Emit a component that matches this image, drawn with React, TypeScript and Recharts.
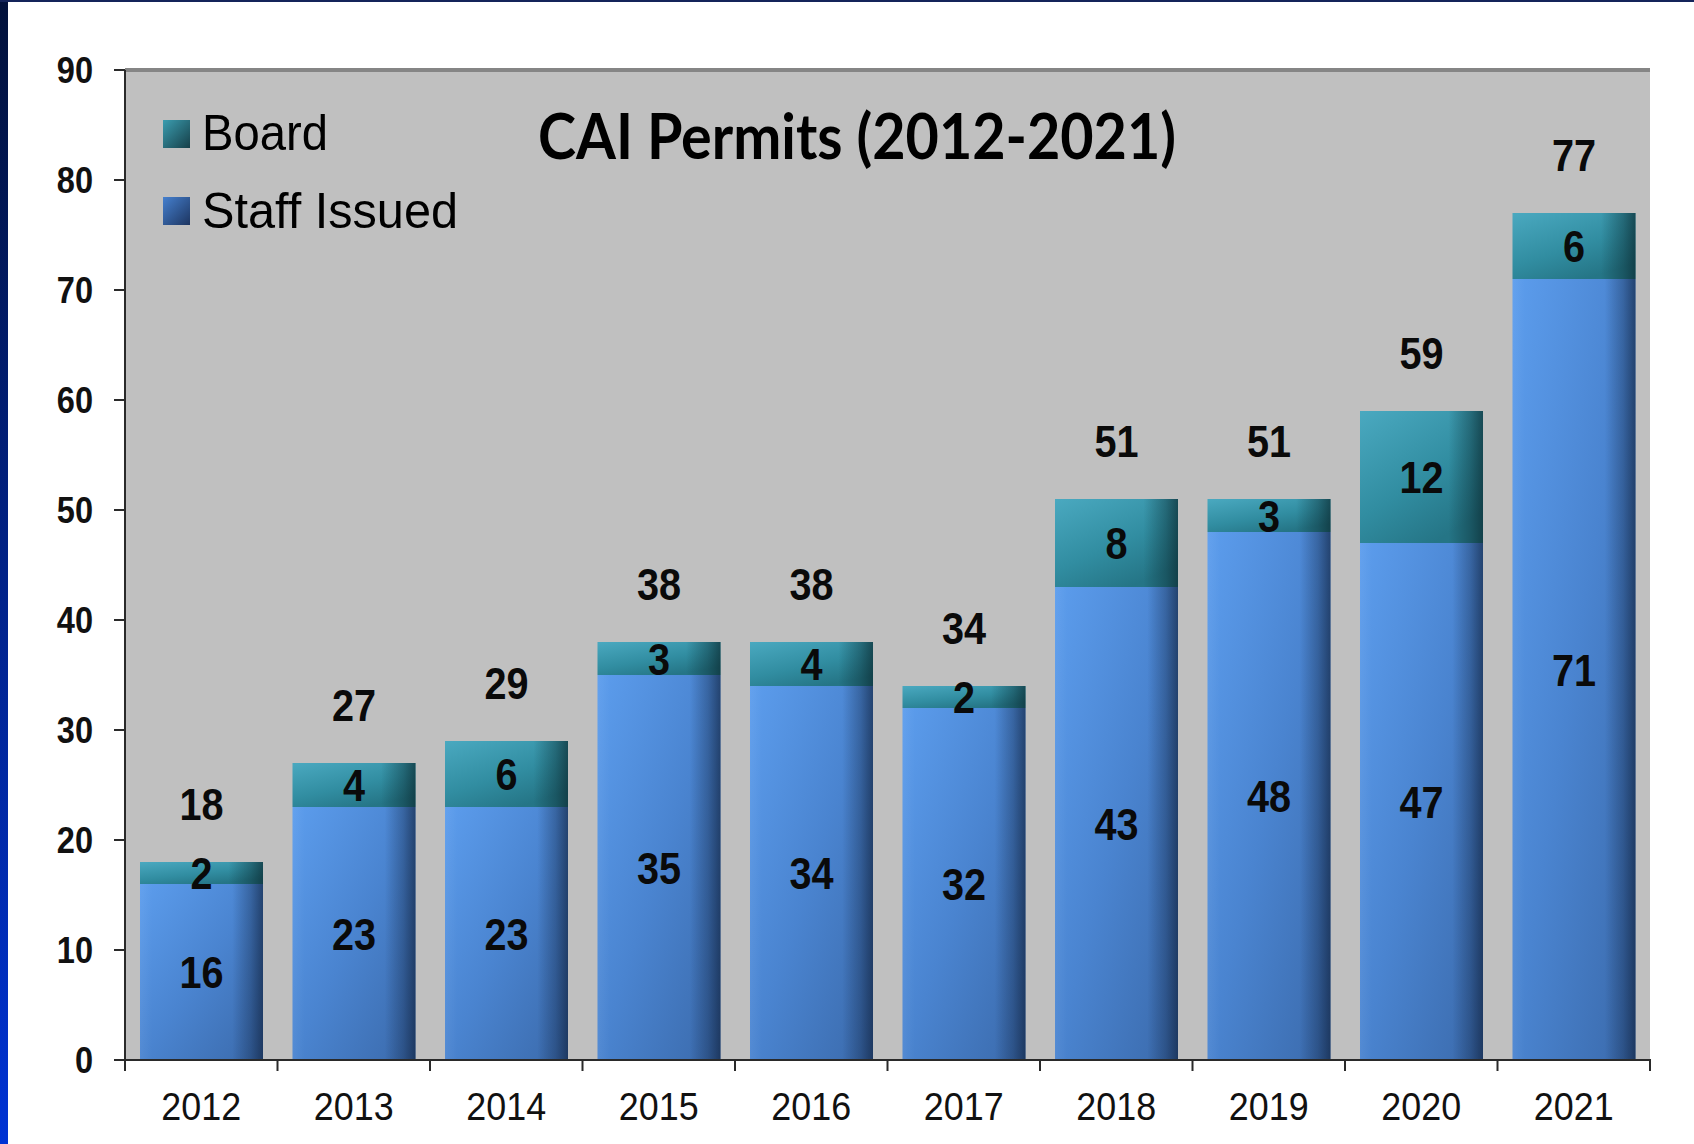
import React from 'react';
import { BarChart, Bar, XAxis, YAxis, CartesianGrid, LabelList, ReferenceLine } from 'recharts';

const years = ['2012', '2013', '2014', '2015', '2016', '2017', '2018', '2019', '2020', '2021'];
const staffIssued = [16, 23, 23, 35, 34, 32, 43, 48, 47, 71];
const board = [2, 4, 6, 3, 4, 2, 8, 3, 12, 6];
const yTicks = [0, 10, 20, 30, 40, 50, 60, 70, 80, 90];
const legendItems = ['Board', 'Staff Issued'];
const title = 'CAI Permits (2012-2021)';

const data = years.map((year, i) => ({
  year,
  staff: staffIssued[i],
  board: board[i],
  total: staffIssued[i] + board[i],
}));

const W = 1694;
const H = 1144;
const PLOT_LEFT = 125;
const PLOT_RIGHT = 1650;
const BAND = (PLOT_RIGHT - PLOT_LEFT) / years.length;
const ARIAL = '"Liberation Sans", Arial, sans-serif';

const XTick = (props: any) => {
  const { x, y, payload, index } = props;
  const half = BAND / 2;
  return (
    <g>
      <line x1={x - half} y1={y - 11} x2={x - half} y2={y + 1} stroke="#2a2a2a" strokeWidth={2} />
      {index === years.length - 1 && (
        <line x1={x + half} y1={y - 11} x2={x + half} y2={y + 1} stroke="#2a2a2a" strokeWidth={2} />
      )}
      <text
        transform={`translate(${x},${y + 50}) scale(0.92,1)`}
        textAnchor="middle"
        fontFamily={ARIAL}
        fontSize={39}
        fill="#111"
      >
        {payload.value}
      </text>
    </g>
  );
};

const YTick = (props: any) => {
  const { x, y, payload } = props;
  return (
    <text
      transform={`translate(${x},${y + 13}) scale(0.88,1)`}
      textAnchor="end"
      fontFamily={ARIAL}
      fontWeight="bold"
      fontSize={37}
      fill="#111"
    >
      {payload.value}
    </text>
  );
};

const StaffShape = (props: any) => {
  const { x, y, width, height } = props;
  if (!height || height <= 0) return null;
  return (
    <g>
      <rect x={x} y={y} width={width} height={height} fill="url(#staffBase)" />
      <rect x={x} y={y} width={width} height={height} fill="url(#edgeShade)" />
    </g>
  );
};

const BoardShape = (props: any) => {
  const { x, y, width, height } = props;
  if (!height || height <= 0) return null;
  return (
    <g>
      <rect x={x} y={y} width={width} height={height} fill="url(#boardBase)" />
      <rect x={x} y={y} width={width} height={height} fill="url(#edgeShadeBoard)" />
    </g>
  );
};

const InsideLabel = (props: any) => {
  const { x, y, width, height, value } = props;
  const cx = x + width / 2;
  const cy = y + height / 2;
  return (
    <text
      transform={`translate(${cx},${cy + 16}) scale(0.88,1)`}
      textAnchor="middle"
      fontFamily={ARIAL}
      fontWeight="bold"
      fontSize={45}
      fill="#0a0a0a"
    >
      {value}
    </text>
  );
};

const TotalLabel = (props: any) => {
  const { x, y, width, value } = props;
  const cx = x + width / 2;
  return (
    <text
      transform={`translate(${cx},${y - 58 + 16}) scale(0.88,1)`}
      textAnchor="middle"
      fontFamily={ARIAL}
      fontWeight="bold"
      fontSize={45}
      fill="#0a0a0a"
    >
      {value}
    </text>
  );
};

export default function App() {
  return (
    <div style={{ position: 'absolute', left: 0, top: 0, width: W, height: H, background: '#fff', overflow: 'hidden' }}>
      <div style={{ position: 'absolute', left: 0, top: 0, width: 8, height: H, background: 'linear-gradient(#02113a, #0033d4)' }} />
      <div style={{ position: 'absolute', left: 0, top: 0, width: W, height: 2, background: '#14245a' }} />
      <div style={{ position: 'absolute', left: 0, top: 0 }}>
        <BarChart
          width={W}
          height={H}
          data={data}
          margin={{ top: 70, right: 44, bottom: 0, left: 0 }}
          barSize={123}
        >
          <defs>
            <linearGradient id="staffBase" x1="0" y1="0" x2="1" y2="1">
              <stop offset="0" stopColor="#5c9ded" />
              <stop offset="0.5" stopColor="#4a84d0" />
              <stop offset="1" stopColor="#3a69aa" />
            </linearGradient>
            <linearGradient id="edgeShade" x1="0" y1="0" x2="1" y2="0">
              <stop offset="0" stopColor="#ffffff" stopOpacity="0.05" />
              <stop offset="0.1" stopColor="#ffffff" stopOpacity="0" />
              <stop offset="0.75" stopColor="#0a1830" stopOpacity="0" />
              <stop offset="0.9" stopColor="#0a1830" stopOpacity="0.3" />
              <stop offset="1" stopColor="#0a1830" stopOpacity="0.6" />
            </linearGradient>
            <linearGradient id="boardBase" x1="0" y1="0" x2="0.6" y2="1">
              <stop offset="0" stopColor="#4aa9c0" />
              <stop offset="0.6" stopColor="#318da1" />
              <stop offset="1" stopColor="#257586" />
            </linearGradient>
            <linearGradient id="edgeShadeBoard" x1="0" y1="0" x2="1" y2="0">
              <stop offset="0" stopColor="#0a2a30" stopOpacity="0" />
              <stop offset="0.72" stopColor="#0a2a30" stopOpacity="0" />
              <stop offset="0.9" stopColor="#0a2a30" stopOpacity="0.4" />
              <stop offset="1" stopColor="#0a2a30" stopOpacity="0.7" />
            </linearGradient>
          </defs>
          <CartesianGrid fill="#c0c0c0" stroke="none" horizontal={false} vertical={false} />
          <XAxis
            dataKey="year"
            height={84}
            interval={0}
            tickLine={false}
            tickSize={10}
            tickMargin={0}
            axisLine={{ stroke: '#2a2a2a', strokeWidth: 2 }}
            tick={<XTick />}
          />
          <YAxis
            width={125}
            domain={[0, 90]}
            ticks={yTicks}
            interval={0}
            allowDataOverflow
            tickSize={11}
            tickMargin={21}
            tickLine={{ stroke: '#2a2a2a', strokeWidth: 2 }}
            axisLine={{ stroke: '#2a2a2a', strokeWidth: 2 }}
            tick={<YTick />}
          />
          <YAxis
            yAxisId="right"
            orientation="right"
            width={0}
            domain={[0, 90]}
            tick={false}
            tickLine={false}
            axisLine={{ stroke: '#858585', strokeWidth: 4 }}
          />
          <ReferenceLine y={90} stroke="#858585" strokeWidth={4} />
          <Bar dataKey="staff" stackId="a" shape={<StaffShape />} isAnimationActive={false}>
            <LabelList dataKey="staff" content={<InsideLabel />} />
          </Bar>
          <Bar dataKey="board" stackId="a" shape={<BoardShape />} isAnimationActive={false}>
            <LabelList dataKey="board" content={<InsideLabel />} />
            <LabelList dataKey="total" content={<TotalLabel />} />
          </Bar>
        </BarChart>
      </div>
      <svg width={W} height={H} style={{ position: 'absolute', left: 0, top: 0, pointerEvents: 'none' }}>
        <defs>
          <linearGradient id="legBoard" x1="0" y1="0" x2="1" y2="1">
            <stop offset="0" stopColor="#3b9db0" />
            <stop offset="1" stopColor="#163f48" />
          </linearGradient>
          <linearGradient id="legStaff" x1="0" y1="0" x2="1" y2="1">
            <stop offset="0" stopColor="#4580cf" />
            <stop offset="1" stopColor="#1d3560" />
          </linearGradient>
        </defs>
        <text
          x={538}
          y={159}
          textLength={638}
          lengthAdjust="spacingAndGlyphs"
          fontFamily="Lato, 'Open Sans', sans-serif"
          fontWeight="bold"
          fontSize={63}
          fill="#000"
        >
          {title}
        </text>
        <rect x={163} y={120} width={27} height={28} fill="url(#legBoard)" />
        <text x={202} y={150} textLength={126} lengthAdjust="spacingAndGlyphs" fontFamily={ARIAL} fontSize={50} fill="#000">
          {legendItems[0]}
        </text>
        <rect x={163} y={197} width={27} height={28} fill="url(#legStaff)" />
        <text x={202} y={228} textLength={256} lengthAdjust="spacingAndGlyphs" fontFamily={ARIAL} fontSize={50} fill="#000">
          {legendItems[1]}
        </text>
      </svg>
    </div>
  );
}
